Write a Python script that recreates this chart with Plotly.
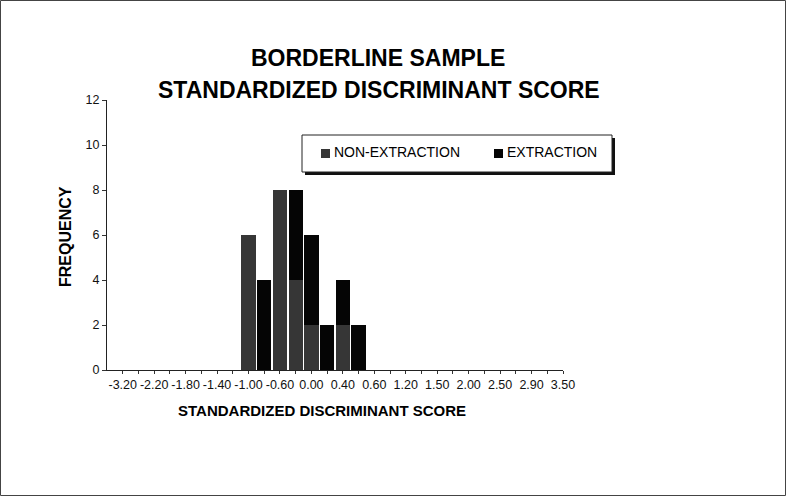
import plotly.graph_objects as go

# x axis: 29 score slots, every other slot carries a label
tick_labels = ["-3.20", "-2.20", "-1.80", "-1.40", "-1.00", "-0.60", "0.00", "0.40",
               "0.60", "1.20", "1.50", "2.00", "2.50", "2.90", "3.50"]
n_slots = 29

# bars (slot index of each bar, frequencies)
bin_index = [8, 9, 10, 11, 12, 13, 14, 15]
non_extraction = [6, 0, 8, 4, 2, 0, 2, 0]
extraction = [0, 4, 0, 4, 4, 2, 2, 2]

FONT = "Liberation Sans, Arial, sans-serif"
GRAY = "#363636"
BLACK = "#050505"

# plot area in pixels
L, R, T, B = 107, 563, 100, 370
W, H = 786, 496


def px(x):
    return (x - L) / (R - L)


def py(y):
    return (B - y) / (B - T)


ticktext = [tick_labels[i // 2] if i % 2 == 0 else "" for i in range(n_slots)]

fig = go.Figure()
fig.add_trace(go.Bar(x=bin_index, y=non_extraction, name="NON-EXTRACTION",
                     marker=dict(color=GRAY, line=dict(width=0))))
fig.add_trace(go.Bar(x=bin_index, y=extraction, name="EXTRACTION",
                     marker=dict(color=BLACK, line=dict(width=0))))

fig.update_layout(
    width=W, height=H,
    margin=dict(l=L, r=W - R, t=T, b=H - B),
    barmode="stack", bargap=0.09,
    showlegend=False,
    plot_bgcolor="white", paper_bgcolor="white",
    font=dict(family=FONT, size=12, color="#111"),
    xaxis=dict(range=[-1, n_slots - 1], tickmode="array",
               tickvals=list(range(n_slots)), ticktext=ticktext,
               ticks="outside", ticklen=3, tickcolor="#333",
               showline=True, linecolor="#222", linewidth=1,
               showgrid=False, zeroline=False,
               tickfont=dict(size=12.5)),
    yaxis=dict(range=[0, 12], dtick=2, ticks="outside", ticklen=4,
               tickcolor="#333", showline=True, linecolor="#222",
               linewidth=1, showgrid=False, zeroline=False,
               tickfont=dict(size=12.5)),
)


def label(x, y, text, size, **kw):
    fig.add_annotation(x=px(x), y=py(y), xref="paper", yref="paper",
                       text=text, showarrow=False,
                       xanchor=kw.pop("xanchor", "center"), yanchor="middle",
                       font=dict(size=size, color="#000"), **kw)


# titles
label(378, 58, "<b>BORDERLINE SAMPLE</b>", 23)
label(379, 90, "<b>STANDARDIZED DISCRIMINANT SCORE</b>", 23)
label(322, 410, "<b>STANDARDIZED DISCRIMINANT SCORE</b>", 15)
label(65, 237, "<b>FREQUENCY</b>", 16, textangle=-90)

# legend box with drop shadow
fig.add_shape(type="rect", xref="paper", yref="paper",
              x0=px(305), x1=px(615), y0=py(138), y1=py(175),
              fillcolor="#111", line=dict(width=0))
fig.add_shape(type="rect", xref="paper", yref="paper",
              x0=px(302), x1=px(612), y0=py(135), y1=py(172),
              fillcolor="white", line=dict(color="#222", width=1))
for name, color, sx, tx in [("NON-EXTRACTION", GRAY, 321, 332),
                            ("EXTRACTION", BLACK, 494, 505)]:
    fig.add_shape(type="rect", xref="paper", yref="paper",
                  x0=px(sx), x1=px(sx + 9), y0=py(149), y1=py(158),
                  fillcolor=color, line=dict(width=0))
    label(tx, 152, name, 14, xanchor="left")

# scan frame around the page
fig.add_shape(type="rect", xref="paper", yref="paper",
              x0=px(0.5), x1=px(785.5), y0=py(0.5), y1=py(495.5),
              line=dict(color="#444", width=1))

fig.write_html("out.html", config={"displayModeBar": False},
               post_script="document.body.style.margin='0';")
